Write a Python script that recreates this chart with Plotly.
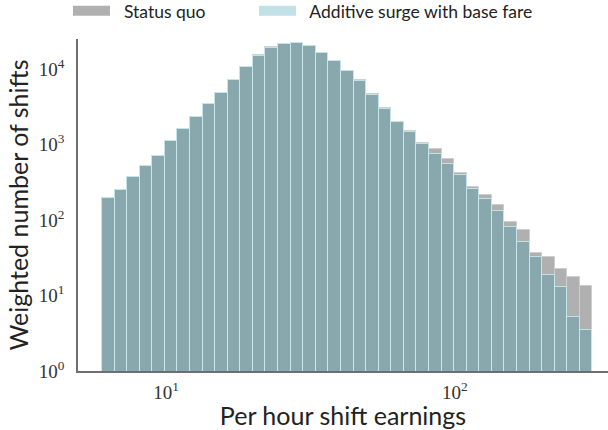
import numpy as np
import plotly.graph_objects as go

# histogram bins (log spaced)
bin_lo = 6.0
bin_hi = 300.0
n_bins = 39

status_quo = [197, 250, 375, 525, 705, 1110, 1625, 2340, 3470, 4810,
              7210, 10740, 15300, 19900, 21800, 22300, 20300, 16500, 12900, 9550,
              7100, 4650, 3050, 2010, 1510, 1040, 864, 637, 423, 271,
              214, 158, 95, 73, 37, 32, 22.6, 17.4, 13.2]
additive_surge = [197, 250, 375, 525, 705, 1110, 1625, 2340, 3470, 4810,
                  7210, 10740, 14860, 19370, 21600, 22100, 20200, 16400, 12760, 9420,
                  7000, 4570, 2980, 1970, 1480, 1015, 748, 557, 394, 257,
                  188, 134, 80, 52, 32, 19, 13.1, 5.2, 3.46]

series_names = ['Status quo', 'Additive surge with base fare']
x_tickvals = [10, 100]
x_ticktext = ['10<sup>1</sup>', '10<sup>2</sup>']
y_tickvals = [1, 10, 100, 1000, 10000]
y_ticktext = ['10<sup>%d</sup>' % i for i in range(5)]

edges = np.geomspace(bin_lo, bin_hi, n_bins + 1)
lefts = edges[:-1]
widths = edges[1:] - edges[:-1]

GRAY = 'rgb(176,176,176)'
BLUE = 'rgba(34,148,166,0.28)'
BLUE_SWATCH = 'rgb(193,225,230)'

serif = 'Liberation Serif, DejaVu Serif, serif'
sans = 'Lato, Liberation Sans, sans-serif'

fig = go.Figure()
fig.add_trace(go.Bar(x=lefts, y=status_quo, width=widths, offset=0,
                     marker=dict(color=GRAY, line=dict(color='rgb(206,206,206)', width=1)),
                     showlegend=False))
fig.add_trace(go.Bar(x=lefts, y=additive_surge, width=widths, offset=0,
                     marker=dict(color=BLUE, line=dict(color='rgba(200,232,238,0.9)', width=1)),
                     showlegend=False))
# legend entries drawn as wide swatches, one legend each so they sit apart
fig.add_trace(go.Scatter(x=[None], y=[None], mode='lines', name='\u00a0\u00a0' + series_names[0],
                         line=dict(color=GRAY, width=12), legend='legend'))
fig.add_trace(go.Scatter(x=[None], y=[None], mode='lines', name='\u00a0\u00a0' + series_names[1],
                         line=dict(color=BLUE_SWATCH, width=12), legend='legend2'))

leg_common = dict(orientation='h', xanchor='left', yanchor='top', yref='paper',
                  y=1.1386, bgcolor='rgba(0,0,0,0)', itemwidth=37,
                  font=dict(family=sans, size=17.5, color='#222'))
fig.update_layout(
    width=608, height=430,
    margin=dict(l=78, r=0, t=39, b=59, autoexpand=False),
    paper_bgcolor='white', plot_bgcolor='white',
    barmode='overlay', bargap=0,
    legend=dict(x=-10 / 530, **leg_common),
    legend2=dict(x=176 / 530, **leg_common),
)
fig.update_xaxes(type='log', range=[np.log10(bin_lo) - 24 / 288.6, 2.531],
                 automargin=False,
                 tickvals=x_tickvals, ticktext=x_ticktext,
                 showgrid=False, zeroline=False, showline=True,
                 linecolor='#6f6f6f', linewidth=1.5,
                 ticks='outside', ticklen=3, tickcolor='rgba(0,0,0,0)',
                 tickfont=dict(family=serif, size=19, color='#333'),
                 title=dict(text='Per hour shift earnings', standoff=0,
                            font=dict(family=sans, size=25, color='#222')))
fig.update_yaxes(type='log', range=[0, 4.4],
                 automargin=False,
                 tickvals=y_tickvals, ticktext=y_ticktext,
                 showgrid=False, zeroline=False, showline=True,
                 linecolor='#6f6f6f', linewidth=1.5,
                 ticks='outside', ticklen=8, tickcolor='rgba(0,0,0,0)',
                 tickfont=dict(family=serif, size=19, color='#333'),
                 title=dict(text='Weighted number of shifts', standoff=3,
                            font=dict(family=sans, size=25, color='#222')))

# drop the default page margin so the figure fills the window
fig.write_html("out.html", config={'displayModeBar': False},
               post_script="document.body.style.margin = '0px';")
